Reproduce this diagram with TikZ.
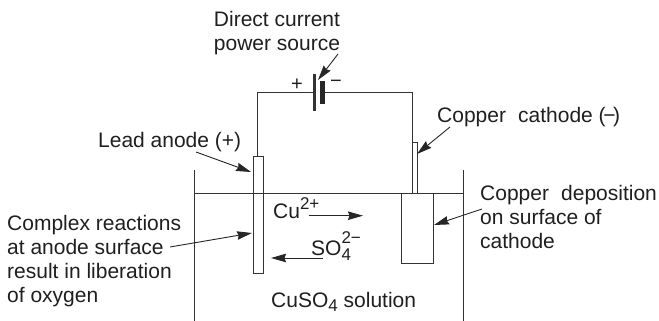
\documentclass[tikz,border=0pt]{standalone}
\usepackage{fontspec}
\setmainfont{Liberation Sans}
\usetikzlibrary{arrows.meta}
\newcommand{\upby}[2]{\raisebox{#1}{#2}}
\tikzset{
  x=1pt,y=-1pt,
  wire/.style={line width=1pt,draw=black!80},
  lead/.style={line width=0.9pt,draw=black!85,-{Stealth[length=15pt,width=8.5pt,inset=1.5pt]}},
  lbl/.style={inner sep=0pt,anchor=base west,font=\fontsize{21}{24}\selectfont,text=black!88,align=left},
  sign/.style={inner sep=0pt,font=\fontsize{20}{20}\selectfont,text=black!88}
}
\begin{document}
\begin{tikzpicture}
\useasboundingbox (0,0) rectangle (659,321);
% tank
\coordinate (tl) at (194,170); \coordinate (tlb) at (194,321);
\coordinate (tr) at (463,170); \coordinate (trb) at (463,321);
\draw[wire] (tl) -- (tlb);
\draw[wire] (tr) -- (trb);
\coordinate (sl) at (194,193); \coordinate (sr) at (463,193);
\draw[wire] (sl) -- (sr);
% electrodes
\node[wire,draw,fill=none,minimum width=10pt,minimum height=117pt,inner sep=0pt,anchor=north west] (anode) at (253,156) {};
\node[wire,draw,fill=none,minimum width=4.5pt,minimum height=51pt,inner sep=0pt,anchor=north west] (stem) at (412.3,142) {};
\node[wire,draw,fill=white,minimum width=32pt,minimum height=70pt,inner sep=0pt,anchor=north west] (block) at (401,193) {};
% battery
\node[fill=black!80,minimum width=2.4pt,minimum height=36pt,inner sep=0pt] (long) at (314.5,92.5) {};
\node[fill=black!85,minimum width=5pt,minimum height=22pt,inner sep=0pt] (short) at (322.5,92.5) {};
\draw[wire] (anode.north) ++(-1,0) coordinate (aw) -- (aw |- long.west) -- (long.west);
\draw[wire] (short.east) -- (stem.north west |- short.east) coordinate (cw) -- (stem.north west);
\node[sign] (plus) at (297,85) {+};
\node[sign] (minus) at (336,84) {−};
% labels
\node[lbl,anchor=base,align=center] (src) at (277,51) {Direct current\\power source};
\node[lbl] (la) at (98,147) {Lead anode (+)};
\node[lbl] (cc) at (437,122) {Copper\hspace{0.3em} cathode (\kern-2.5pt−\kern-2.5pt)};
\node[lbl] (cr) at (7,302) {Complex reactions\\at anode surface\\result in liberation\\of oxygen};
\node[lbl] (cd) at (480,248) {Copper\hspace{0.3em} deposition\\on surface of\\cathode};
\node[lbl] (cu) at (273,218) {Cu\upby{8.5pt}{\fontsize{17}{17}\selectfont 2+}};
\node[lbl] (so) at (311,255) {SO\rlap{\upby{12pt}{\fontsize{17}{17}\selectfont 2−}}\upby{-5pt}{\fontsize{17}{17}\selectfont 4}};
\node[lbl] (sol) at (271,307) {CuSO\upby{-4pt}{\fontsize{17}{17}\selectfont 4} solution};
% leaders
\coordinate (a1) at (338,54); \coordinate (a2) at (318,80);
\draw[lead] (a1) -- (a2);
\coordinate (b1) at (196,152); \coordinate (b2) at (251,172);
\draw[lead] (b1) -- (b2);
\coordinate (c1) at (450,127); \coordinate (c2) at (417,154);
\draw[lead] (c1) -- (c2);
\coordinate (d1) at (170,247); \coordinate (d2) at (252,233);
\draw[lead] (d1) -- (d2);
\coordinate (e1) at (482,209); \coordinate (e2) at (434,225);
\draw[lead] (e1) -- (e2);
\coordinate (f1) at (309,215.7); \coordinate (f2) at (363,215.7);
\draw[lead] (f1) -- (f2);
\coordinate (g1) at (323,258); \coordinate (g2) at (271,258);
\draw[lead] (g1) -- (g2);
\end{tikzpicture}
\end{document}
